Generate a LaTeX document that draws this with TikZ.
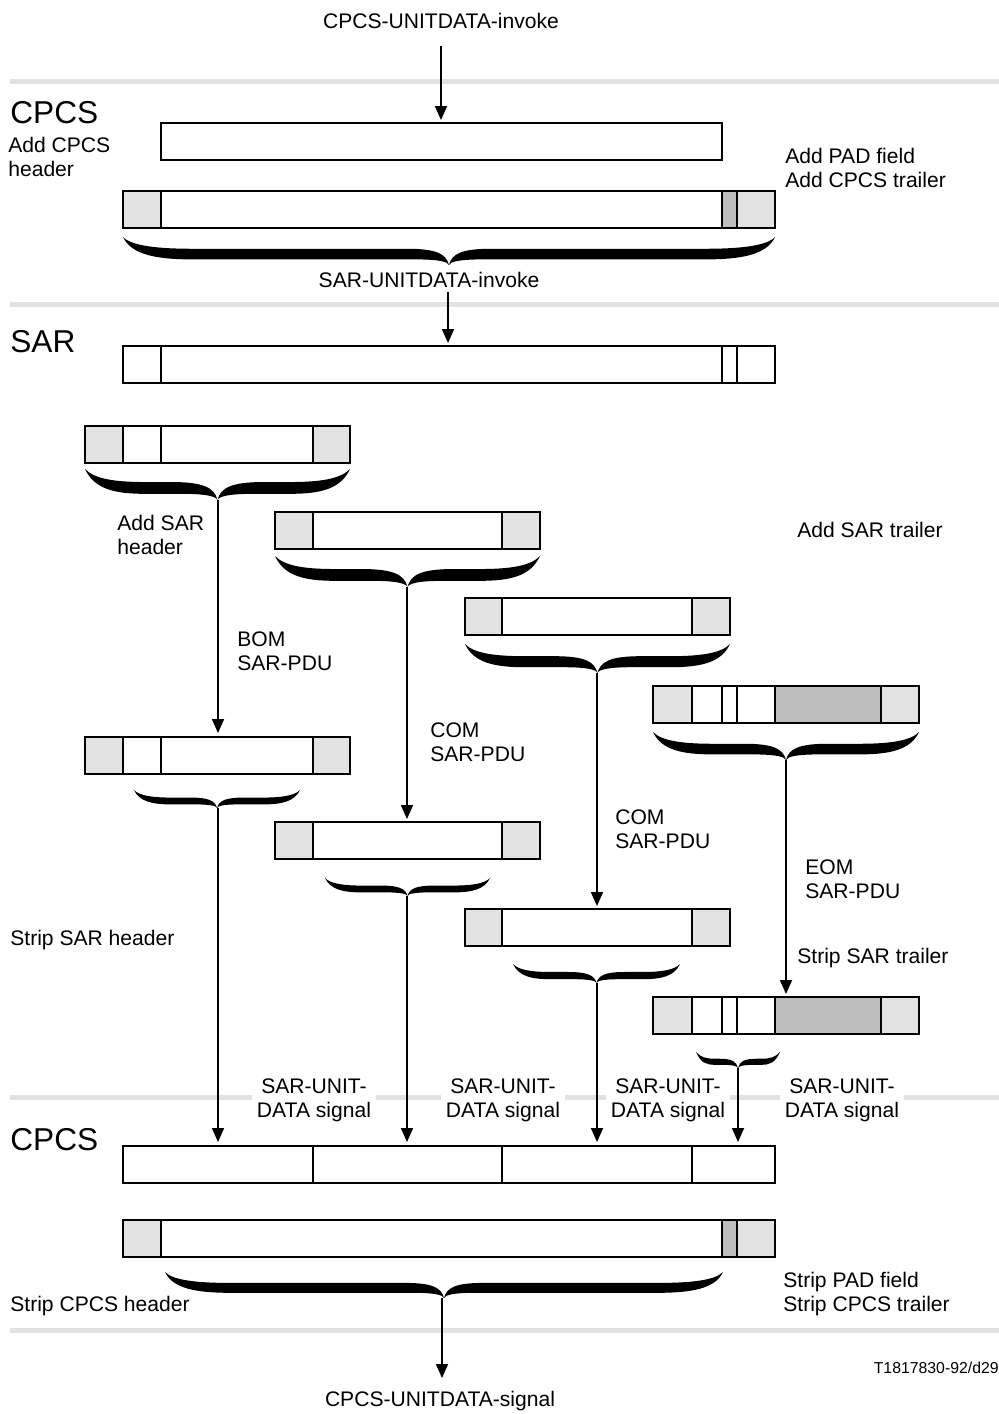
\documentclass[tikz,border=0pt]{standalone}
\usepackage{fontspec}
\setmainfont{Liberation Sans}
\usetikzlibrary{arrows.meta}
\definecolor{fieldgray}{HTML}{E3E3E3}
\definecolor{padgray}{HTML}{BEBEBE}
\definecolor{layergray}{HTML}{E2E2E2}
\tikzset{
  wf/.style={draw=black,fill=white,line width=1pt},
  lf/.style={wf,fill=fieldgray},
  df/.style={wf,fill=padgray},
  layerline/.style={draw=layergray,line width=0.1cm},
  flow/.style={-{Triangle[length=0.28cm,width=0.24cm]},line width=1pt},
  lbl/.style={font=\fontsize{12}{14}\selectfont,inner sep=0pt,align=left,anchor=west,text depth=0pt},
  layername/.style={font=\fontsize{18}{20}\selectfont,inner sep=0pt,anchor=west},
  siglbl/.style={lbl,align=center,anchor=center,fill=white,inner xsep=3pt,inner ysep=1pt}
}
% one PDU: top y, then left/right/style of each field
\newcommand\pdu[2]{\foreach \a/\b/\f in {#2}{\filldraw[\f] (\a,#1) rectangle (\b,{#1+37});}}
% filled curly brace: left x, right x, top y, tip y
\newcommand\fatbrace[4]{%
  \pgfmathsetmacro\bw{(#2-#1)/2}%
  \pgfmathsetmacro\bh{#4-#3}%
  \pgfmathsetmacro\bc{min(2.5*\bh,0.45*\bw)}%
  \pgfmathsetmacro\bd{min(1.2*\bh,0.4*\bw)}%
  \pgfmathsetmacro\be{min(1.5*\bh,0.45*\bw)}%
  \foreach \s in {1,-1}
    \fill[shift={({(#1+#2)/2},#3)},xscale=\s]
      (-\bw,0) .. controls ({-\bw+0.3*\bh},{0.65*\bh}) and ({-\bw+0.5*\bc},{0.8*\bh}) .. ({-\bw+\bc},{0.8*\bh})
      -- ({-\bd},{0.8*\bh}) .. controls ({-0.3*\bd},{0.8*\bh}) and ({-0.05*\bh},{0.88*\bh}) .. (0,\bh)
      .. controls ({-0.1*\bh},{0.6*\bh}) and ({-0.3*\be},{0.42*\bh}) .. ({-\be},{0.42*\bh})
      -- ({-\bw+\bc},{0.42*\bh}) .. controls ({-\bw+0.5*\bc},{0.42*\bh}) and ({-\bw+0.3*\bh},{0.32*\bh}) .. cycle;
}
\begin{document}
\begin{tikzpicture}[x=0.02cm,y=-0.02cm]
  \useasboundingbox (0,0) rectangle (999,1414);
  % layer boundaries
  \foreach \y in {81,304,1097,1330}
    \draw[layerline] (10,\y) -- (999,\y);

  % CPCS sending side
  \pdu{123}{161/722/wf}
  \pdu{191}{123/161/lf,161/722/wf,722/737/df,737/775/lf}
  \fatbrace{123}{775}{237}{265}

  % SAR sending side
  \pdu{346}{123/161/wf,161/722/wf,722/737/wf,737/775/wf}
  \foreach \t in {426,737}{\pdu{\t}{85/123/lf,123/161/wf,161/313/wf,313/350/lf}}
  \foreach \t in {512,822}{\pdu{\t}{275/313/lf,313/502/wf,502/540/lf}}
  \foreach \t in {598,909}{\pdu{\t}{465/502/lf,502/692/wf,692/730/lf}}
  \foreach \t in {686,997}{\pdu{\t}{653/692/lf,692/722/wf,722/737/wf,737/775/wf,775/881/df,881/919/lf}}
  \fatbrace{85}{350}{469}{500}
  \fatbrace{275}{540}{556}{587}
  \fatbrace{465}{730}{644}{673}
  \fatbrace{653}{919}{732}{760}
  \fatbrace{134}{300}{790}{808}
  \fatbrace{325}{490}{878}{896}
  \fatbrace{513}{680}{964}{983}
  \fatbrace{696}{780}{1052}{1068}

  % CPCS receiving side
  \pdu{1146}{123/313/wf,313/502/wf,502/692/wf,692/775/wf}
  \pdu{1220}{123/161/lf,161/722/wf,722/737/df,737/775/lf}
  \fatbrace{165}{723}{1272}{1298}

  % flows
  \coordinate (invokeTop) at (441,46);
  \coordinate (cpcsIn) at (441,120);
  \coordinate (sarFrom) at (448,292);
  \coordinate (sarIn) at (448,343);
  \coordinate (bomTip) at (218,500);
  \coordinate (bomIn) at (218,733);
  \coordinate (comTipA) at (407,587);
  \coordinate (comInA) at (407,819);
  \coordinate (comTipB) at (597,673);
  \coordinate (comInB) at (597,906);
  \coordinate (eomTip) at (786,760);
  \coordinate (eomIn) at (786,994);
  \coordinate (userTip) at (442,1298);
  \coordinate (userOut) at (442,1378);
  \draw[flow] (invokeTop) -- (cpcsIn);
  \draw[flow] (sarFrom) -- (sarIn);
  \draw[flow] (bomTip) -- (bomIn);
  \draw[flow] (comTipA) -- (comInA);
  \draw[flow] (comTipB) -- (comInB);
  \draw[flow] (eomTip) -- (eomIn);
  \foreach \x/\y [count=\i] in {218/808,407/896,597/983,738/1068}{
    \coordinate (pduOut\i) at (\x,\y);
    \coordinate (cpcsPart\i) at (\x,1142);
    \draw[flow] (pduOut\i) -- (cpcsPart\i);
  }
  \draw[flow] (userTip) -- (userOut);

  % texts
  \node[lbl,anchor=center] (invokeTxt) at (441,21) {CPCS-UNITDATA-invoke};
  \node[layername] (cpcsTop) at (10,113) {CPCS};
  \node[lbl] (addHdr) at (8,157) {Add CPCS\\header};
  \node[lbl] (addTrl) at (785,168) {Add PAD field\\Add CPCS trailer};
  \node[lbl,anchor=center] (sarInvTxt) at (429,280) {SAR-UNITDATA-invoke};
  \node[layername] (sarName) at (10,342) {SAR};
  \node[lbl] (addSarHdr) at (117,535) {Add SAR\\header};
  \node[lbl] (addSarTrl) at (797,530) {Add SAR trailer};
  \node[lbl] (bomTxt) at (237,651) {BOM\\SAR-PDU};
  \node[lbl] (comTxtA) at (430,742) {COM\\SAR-PDU};
  \node[lbl] (comTxtB) at (615,829) {COM\\SAR-PDU};
  \node[lbl] (eomTxt) at (805,879) {EOM\\SAR-PDU};
  \node[lbl] (stripSarHdr) at (10,938) {Strip SAR header};
  \node[lbl] (stripSarTrl) at (797,956) {Strip SAR trailer};
  \foreach \x [count=\i] in {314,503,668,842}
    \node[siglbl] (sig\i) at (\x,1098) {SAR-UNIT-\\DATA signal};
  \node[layername] (cpcsBot) at (10,1140) {CPCS};
  \node[lbl] (stripHdr) at (10,1304) {Strip CPCS header};
  \node[lbl] (stripTrl) at (783,1292) {Strip PAD field\\Strip CPCS trailer};
  \node[lbl,font=\fontsize{9}{11}\selectfont,anchor=east] (figRef) at (999,1368) {T1817830-92/d29};
  \node[lbl,anchor=center] (signalTxt) at (440,1399) {CPCS-UNITDATA-signal};
\end{tikzpicture}
\end{document}
